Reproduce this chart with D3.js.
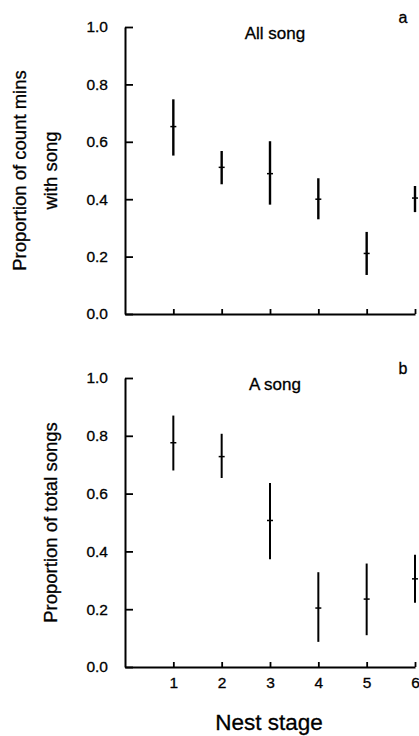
<!DOCTYPE html>
<html>
<head>
<meta charset="utf-8">
<script src="https://cdn.jsdelivr.net/npm/d3@7"></script>
<style>
  body { margin: 0; background: #fff; }
  svg { display: block; font-family: "Liberation Sans", Arial, sans-serif; }
  svg text { stroke: #000; stroke-width: 0.3px; }
</style>
</head>
<body>
<div class="chart"></div>
<script>
// nest stages
const stages = [1, 2, 3, 4, 5, 6];

// panel a: all song
const allMean = [0.653, 0.511, 0.489, 0.400, 0.211, 0.404];
const allLow  = [0.552, 0.452, 0.381, 0.330, 0.136, 0.355];
const allHigh = [0.748, 0.568, 0.602, 0.473, 0.286, 0.446];

// panel b: A song
const aMean = [0.776, 0.728, 0.507, 0.204, 0.235, 0.305];
const aLow  = [0.680, 0.654, 0.373, 0.087, 0.110, 0.222];
const aHigh = [0.870, 0.807, 0.637, 0.328, 0.358, 0.388];

const yTicks = [0, 0.2, 0.4, 0.6, 0.8, 1.0];

const width = 419, height = 736;

const svg = d3.select('.chart')
    .append('svg')
    .attr('width', width)
    .attr('height', height)
    .attr('viewBox', [0, 0, width, height]);

const x = d3.scaleLinear().domain([0, 6]).range([125, 415]);

const panels = [
    {mean: allMean, low: allLow, high: allHigh, top: 27, bottom: 314,
     title: 'All song', letter: 'a', label: ['Proportion of count mins', 'with song'], xLabels: false, bar: 2.4},
    {mean: aMean, low: aLow, high: aHigh, top: 378, bottom: 667,
     title: 'A song', letter: 'b', label: ['Proportion of total songs'], xLabels: true, bar: 2}
];

panels.forEach(p => {
    const y = d3.scaleLinear().domain([0, 1]).range([p.bottom, p.top]);
    const g = svg.append('g');

    const yAxis = d3.axisLeft(y)
        .tickValues(yTicks)
        .tickFormat(d3.format('.1f'))
        .tickSizeInner(-8)
        .tickSizeOuter(0)
        .tickPadding(17);

    const xAxis = d3.axisBottom(x)
        .tickValues(stages)
        .tickFormat(p.xLabels ? d3.format('d') : '')
        .tickSizeInner(-5)
        .tickSizeOuter(0)
        .tickPadding(10);

    const ya = g.append('g')
        .attr('transform', `translate(${x(0)},0)`)
        .call(yAxis);
    const xa = g.append('g')
        .attr('transform', `translate(0,${p.bottom})`)
        .call(xAxis);

    [ya, xa].forEach(a => {
        a.select('.domain').attr('stroke-width', 2);
        a.selectAll('.tick line').attr('stroke-width', 1.8);
        a.selectAll('.tick text')
            .attr('font-size', 15.5)
            .attr('font-family', '"Liberation Sans", Arial, sans-serif')
            .attr('fill', '#000');
    });

    // error bars
    g.selectAll('line.err')
        .data(stages)
        .join('line')
        .attr('class', 'err')
        .attr('x1', d => x(d))
        .attr('x2', d => x(d))
        .attr('y1', (d, i) => y(p.low[i]))
        .attr('y2', (d, i) => y(p.high[i]))
        .attr('stroke', '#000')
        .attr('stroke-width', p.bar);

    // mean marks
    g.selectAll('line.mean')
        .data(stages)
        .join('line')
        .attr('class', 'mean')
        .attr('x1', d => x(d) - 3)
        .attr('x2', d => x(d) + 3)
        .attr('y1', (d, i) => y(p.mean[i]))
        .attr('y2', (d, i) => y(p.mean[i]))
        .attr('stroke', '#000')
        .attr('stroke-width', 1.5);

    g.append('text')
        .attr('x', 275)
        .attr('y', p.top + 12)
        .attr('text-anchor', 'middle')
        .attr('font-size', 17)
        .text(p.title);

    g.append('text')
        .attr('x', 403)
        .attr('y', p.top - 4)
        .attr('text-anchor', 'middle')
        .attr('font-size', 16)
        .text(p.letter);

    const cy = (p.top + p.bottom) / 2;
    const lab = g.append('text')
        .attr('transform', `translate(0,${cy}) rotate(-90)`)
        .attr('text-anchor', 'middle')
        .attr('font-size', 18.5);
    if (p.label.length === 2) {
        lab.append('tspan').attr('x', 0).attr('y', 26).text(p.label[0]);
        lab.append('tspan').attr('x', 0).attr('y', 57).text(p.label[1]);
    } else {
        lab.append('tspan').attr('x', 0).attr('y', 57).text(p.label[0]);
    }
});

svg.append('text')
    .attr('x', 269)
    .attr('y', 730)
    .attr('text-anchor', 'middle')
    .attr('font-size', 22.5)
    .text('Nest stage');
</script>
</body>
</html>
